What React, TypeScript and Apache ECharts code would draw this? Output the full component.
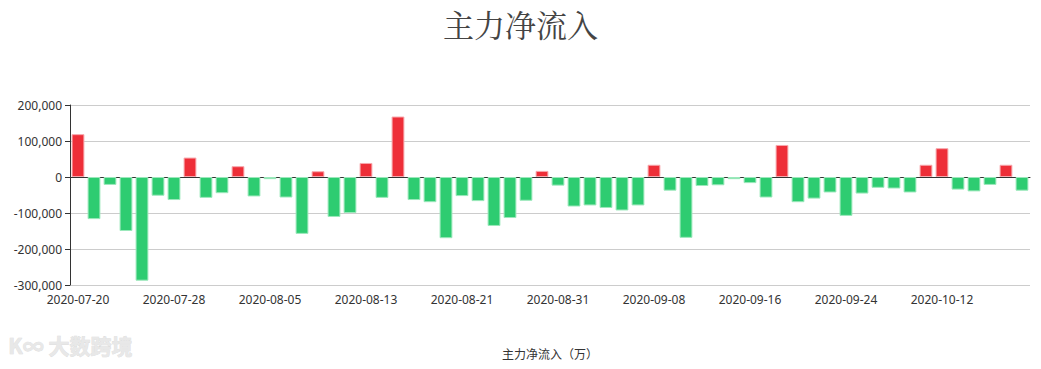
import React, { useEffect, useRef } from "react";
import * as echarts from "echarts";

const dates: string[] = [
  "2020-07-20", "2020-07-21", "2020-07-22", "2020-07-23", "2020-07-24",
  "2020-07-27", "2020-07-28", "2020-07-29", "2020-07-30", "2020-07-31",
  "2020-08-03", "2020-08-04", "2020-08-05", "2020-08-06", "2020-08-07",
  "2020-08-10", "2020-08-11", "2020-08-12", "2020-08-13", "2020-08-14",
  "2020-08-17", "2020-08-18", "2020-08-19", "2020-08-20", "2020-08-21",
  "2020-08-24", "2020-08-25", "2020-08-26", "2020-08-27", "2020-08-28",
  "2020-08-31", "2020-09-01", "2020-09-02", "2020-09-03", "2020-09-04",
  "2020-09-07", "2020-09-08", "2020-09-09", "2020-09-10", "2020-09-11",
  "2020-09-14", "2020-09-15", "2020-09-16", "2020-09-17", "2020-09-18",
  "2020-09-21", "2020-09-22", "2020-09-23", "2020-09-24", "2020-09-25",
  "2020-09-28", "2020-09-29", "2020-09-30", "2020-10-09", "2020-10-12",
  "2020-10-13", "2020-10-14", "2020-10-15", "2020-10-16", "2020-10-19",
];

const netInflow: number[] = [
  119000, -117000, -22000, -150000, -288000,
  -52000, -64000, 54000, -58000, -45000,
  30000, -54000, -6000, -57000, -158000,
  16000, -111000, -100000, 39000, -58000,
  168000, -64000, -70000, -170000, -53000,
  -67000, -136000, -114000, -66000, 17000,
  -24000, -82000, -79000, -86000, -93000,
  -79000, 34000, -38000, -169000, -25000,
  -23000, -6000, -17000, -57000, 89000,
  -70000, -60000, -43000, -108000, -46000,
  -30000, -32000, -43000, 34000, 80000,
  -35000, -40000, -22000, 34000, -38000,
];

const titleText = "主力净流入";
const axisName = "主力净流入（万）";
const watermarkText = "大数跨境";

const RED = "#ee2e38";
const GREEN = "#2ecc71";

export default function App() {
  const ref = useRef<HTMLDivElement>(null);

  useEffect(() => {
    if (!ref.current) return;
    const chart = echarts.init(ref.current, undefined, { renderer: "svg" });
    chart.setOption({
      animation: false,
      backgroundColor: "#ffffff",
      title: {
        text: titleText,
        left: "center",
        top: 3,
        textStyle: {
          fontFamily: "'Noto Serif CJK SC', serif",
          fontSize: 31,
          fontWeight: "normal",
          color: "#444444",
        },
      },
      grid: { left: 70, right: 11, top: 105, bottom: 84 },
      xAxis: {
        type: "category",
        data: dates,
        name: axisName,
        nameLocation: "middle",
        nameGap: 62,
        nameTextStyle: { color: "#333", fontSize: 12, fontFamily: "'Noto Sans CJK SC', sans-serif" },
        axisLine: { lineStyle: { color: "#333" } },
        axisTick: { interval: 5, lineStyle: { color: "#333" } },
        axisLabel: {
          interval: 5,
          color: "#333",
          fontSize: 12,
          fontFamily: "'Noto Sans', sans-serif",
        },
      },
      yAxis: {
        type: "value",
        min: -300000,
        max: 200000,
        interval: 100000,
        axisLine: { show: true, lineStyle: { color: "#333" } },
        axisTick: { show: true, lineStyle: { color: "#333" } },
        axisLabel: {
          color: "#333",
          fontSize: 12,
          fontFamily: "'Noto Sans', sans-serif",
          formatter: (v: number) => v.toLocaleString("en-US"),
        },
        splitLine: { lineStyle: { color: "#cccccc" } },
      },
      series: [
        {
          type: "bar",
          data: netInflow.map((v) => ({
            value: v,
            itemStyle: {
              color: v >= 0 ? RED : GREEN,
              borderColor: v >= 0 ? "#f7a8ad" : "#9be8bb",
              borderWidth: 1,
            },
          })),
          barCategoryGap: "20%",
        },
      ],
      graphic: [
        {
          type: "text",
          left: 8,
          top: 334,
          style: {
            text: "K∞ " + watermarkText,
            fontSize: 21,
            fontWeight: "bold",
            fill: "#e8e8e8",
            stroke: "#d8d8d8",
            lineWidth: 0.6,
            fontFamily: "'Noto Sans CJK SC', sans-serif",
          },
        },
      ],
    });
    return () => chart.dispose();
  }, []);

  return <div ref={ref} style={{ width: 1041, height: 369, margin: -8 }} />;
}
